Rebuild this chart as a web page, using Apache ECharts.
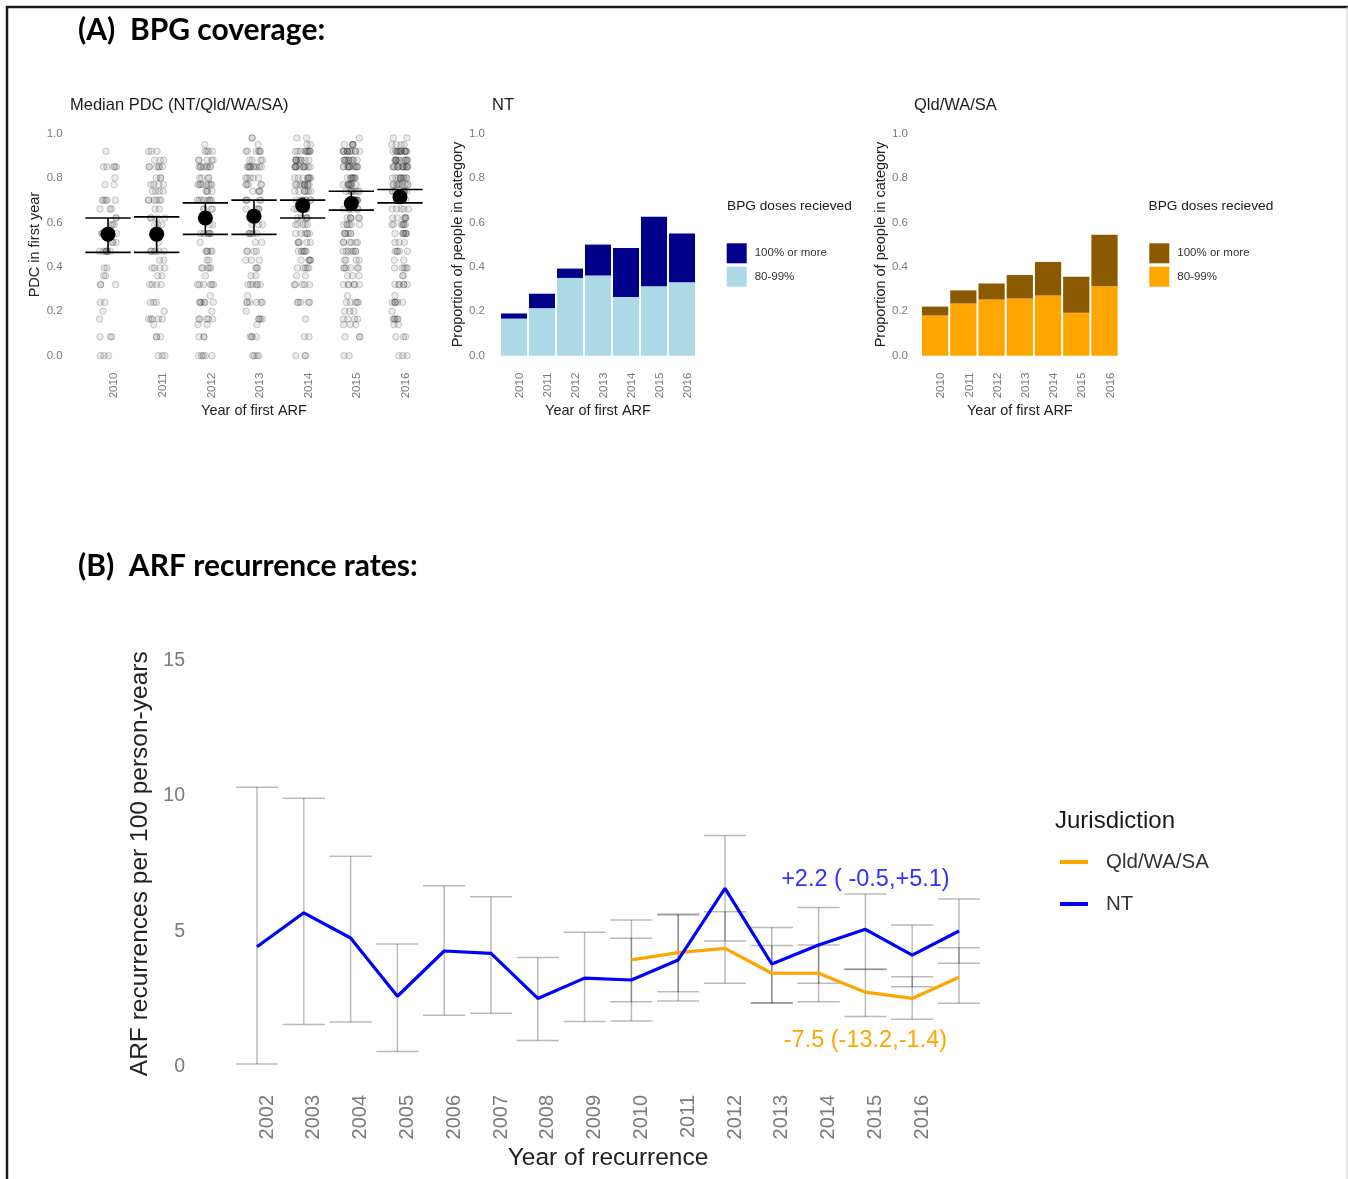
<!DOCTYPE html>
<html>
<head>
<meta charset="utf-8">
<script src="https://cdn.jsdelivr.net/npm/echarts@6.0.0/dist/echarts.min.js"></script>
<style>
  html, body { margin: 0; padding: 0; background: #fff; }
  #chart { width: 1348px; height: 1179px; }
</style>
</head>
<body>
<div id="chart"></div>
<script>
// ---- (A) PDC in first year, by year of first ARF
var firstYears = ['2010', '2011', '2012', '2013', '2014', '2015', '2016'];
// PDC values seen in the jittered strips, and how many people sit at each value per year
var pdcLevels = [0, 0.085, 0.14, 0.165, 0.2, 0.24, 0.27, 0.32, 0.36, 0.395, 0.43, 0.47, 0.51, 0.55, 0.59, 0.62, 0.66, 0.70, 0.74, 0.77, 0.80, 0.85, 0.88, 0.92, 0.95, 0.98];
var pdcCount2010 = [3, 3, 0, 1, 1, 2, 0, 3, 2, 2, 0, 7, 3, 4, 3, 2, 3, 5, 0, 2, 1, 5, 0, 1, 0, 0];
var pdcCount2011 = [3, 3, 1, 5, 1, 3, 0, 4, 2, 4, 2, 6, 1, 3, 3, 4, 2, 6, 4, 4, 3, 6, 3, 3, 0, 0];
var pdcCount2012 = [5, 3, 2, 5, 1, 6, 1, 6, 1, 5, 2, 5, 1, 6, 2, 2, 4, 8, 4, 8, 4, 8, 5, 4, 1, 0];
var pdcCount2013 = [4, 4, 1, 4, 1, 6, 1, 6, 2, 3, 3, 4, 2, 5, 3, 3, 4, 5, 4, 5, 5, 10, 4, 6, 1, 2];
var pdcCount2014 = [3, 2, 0, 1, 0, 5, 0, 5, 2, 5, 5, 6, 5, 6, 5, 5, 6, 8, 7, 10, 8, 12, 9, 10, 2, 2];
var pdcCount2015 = [2, 3, 3, 4, 3, 5, 1, 6, 3, 6, 4, 7, 6, 6, 6, 6, 6, 8, 8, 9, 8, 12, 10, 12, 5, 1];
var pdcCount2016 = [3, 3, 2, 5, 1, 6, 1, 6, 2, 5, 2, 5, 3, 7, 7, 6, 5, 8, 8, 10, 10, 14, 12, 14, 4, 2];
var pdcMedian = [0.547, 0.547, 0.62, 0.628, 0.676, 0.685, 0.715];
var pdcLower = [0.465, 0.465, 0.546, 0.546, 0.62, 0.655, 0.688];
var pdcUpper = [0.62, 0.625, 0.688, 0.70, 0.70, 0.74, 0.748];

// proportion of people by BPG doses received
var nt8099 = [0.167, 0.214, 0.35, 0.361, 0.264, 0.312, 0.33];
var nt100 = [0.023, 0.065, 0.042, 0.139, 0.221, 0.313, 0.22];
var qld8099 = [0.181, 0.235, 0.253, 0.258, 0.271, 0.193, 0.313];
var qld100 = [0.04, 0.059, 0.072, 0.105, 0.151, 0.162, 0.231];

// ---- (B) ARF recurrence rates per 100 person-years
var recurYears = ['2002', '2003', '2004', '2005', '2006', '2007', '2008', '2009',
  '2010', '2011', '2012', '2013', '2014', '2015', '2016', '2017'];
var ntRate = [4.44, 5.69, 4.76, 2.61, 4.28, 4.19, 2.53, 3.28, 3.21, 3.95, 6.59, 3.80, 4.50, 5.08, 4.13, 5.02];
var ntLow = [0.11, 1.57, 1.66, 0.57, 1.91, 1.98, 0.98, 1.68, 1.70, 2.44, 4.65, 2.37, 3.09, 3.62, 2.96, 3.83];
var ntHigh = [10.32, 9.92, 7.78, 4.54, 6.69, 6.28, 4.04, 4.97, 5.42, 5.61, 8.54, 5.15, 5.89, 6.38, 5.24, 6.20];
var qldRate = [null, null, null, null, null, null, null, null, 3.95, 4.22, 4.38, 3.46, 3.46, 2.76, 2.53, 3.31];
var qldLow = [null, null, null, null, null, null, null, null, 2.41, 2.78, 3.09, 2.35, 2.41, 1.86, 1.76, 2.35];
var qldHigh = [null, null, null, null, null, null, null, null, 4.75, 5.65, 5.73, 4.48, 4.50, 3.60, 3.33, 4.40];
var ntChange = '+2.2 ( -0.5,+5.1)';
var qldChange = '-7.5 (-13.2,-1.4)';

var FONT = '"Liberation Sans", Arial, sans-serif';
var TICK = '#7a7a7a';
var NAVY = '#00008B', LIGHTBLUE = '#ADD8E6', ORANGE = '#FFA500', BROWN = '#8B5A00';

// expand counts into one point per person
var pdcCounts = [pdcCount2010, pdcCount2011, pdcCount2012, pdcCount2013, pdcCount2014, pdcCount2015, pdcCount2016];
var pdcPoints = [];
pdcCounts.forEach(function (counts, i) {
  counts.forEach(function (n, j) {
    for (var k = 0; k < n; k++) pdcPoints.push([i, pdcLevels[j]]);
  });
});
var medianData = pdcMedian.map(function (m, i) { return [i, m, pdcLower[i], pdcUpper[i]]; });

var ntErr = ntLow.map(function (v, i) { return [i, v, ntHigh[i]]; });
var qldErr = [];
qldLow.forEach(function (v, i) { if (v !== null) qldErr.push([i, v, qldHigh[i]]); });

function medianItem(params, api) {
  var i = api.value(0);
  var mid = api.coord([i, api.value(1)]);
  var lo = api.coord([i, api.value(2)]);
  var hi = api.coord([i, api.value(3)]);
  var half = api.size([1, 0])[0] * 0.465;
  return {
    type: 'group',
    children: [
      { type: 'line', shape: { x1: mid[0], y1: lo[1], x2: mid[0], y2: hi[1] }, style: { stroke: '#000', lineWidth: 1.6 } },
      { type: 'line', shape: { x1: mid[0] - half, y1: lo[1], x2: mid[0] + half, y2: lo[1] }, style: { stroke: '#000', lineWidth: 1.6 } },
      { type: 'line', shape: { x1: mid[0] - half, y1: hi[1], x2: mid[0] + half, y2: hi[1] }, style: { stroke: '#000', lineWidth: 1.6 } },
      { type: 'circle', shape: { cx: mid[0], cy: mid[1], r: 7.5 }, style: { fill: '#000' } }
    ]
  };
}

function errItem(params, api) {
  var i = api.value(0);
  var lo = api.coord([i, api.value(1)]);
  var hi = api.coord([i, api.value(2)]);
  var half = api.size([1, 0])[0] * 0.45;
  var c = 'rgba(0,0,0,0.27)';
  return {
    type: 'group',
    children: [
      { type: 'line', shape: { x1: lo[0], y1: lo[1], x2: lo[0], y2: hi[1] }, style: { stroke: c, lineWidth: 1.5 } },
      { type: 'line', shape: { x1: lo[0] - half, y1: lo[1], x2: lo[0] + half, y2: lo[1] }, style: { stroke: c, lineWidth: 1.5 } },
      { type: 'line', shape: { x1: lo[0] - half, y1: hi[1], x2: lo[0] + half, y2: hi[1] }, style: { stroke: c, lineWidth: 1.5 } }
    ]
  };
}

function smallYAxis(grid, name, margin, gap) {
  return {
    type: 'value', gridIndex: grid, min: 0, max: 1, interval: 0.2,
    name: name, nameLocation: 'middle', nameGap: gap, nameRotate: 90,
    nameTextStyle: { fontFamily: FONT, fontSize: 14.5, color: '#222' },
    axisLine: { show: false }, axisTick: { show: false }, splitLine: { show: false },
    axisLabel: { margin: margin, fontFamily: FONT, fontSize: 11.5, color: TICK,
      formatter: function (v) { return v.toFixed(1); } }
  };
}

function smallXAxis(grid, extra) {
  var ax = {
    type: 'category', gridIndex: grid, data: firstYears,
    name: 'Year of first ARF', nameLocation: 'middle', nameGap: 48,
    nameTextStyle: { fontFamily: FONT, fontSize: 14.5, color: '#222' },
    axisLine: { show: false }, axisTick: { show: false }, splitLine: { show: false },
    axisLabel: { interval: 0, rotate: 90, margin: 17, verticalAlign: 'top',
      fontFamily: FONT, fontSize: 11.5, color: TICK }
  };
  for (var k in extra) ax[k] = extra[k];
  return ax;
}

var chart = echarts.init(document.getElementById('chart'));

var option = {
  backgroundColor: '#fff',
  animation: false,
  grid: [
    { left: 83.7, top: 133.5, width: 340.6, height: 222.2, outerBoundsMode: 'none' },
    { left: 500, top: 133.5, width: 196, height: 222.2, outerBoundsMode: 'none' },
    { left: 921, top: 133.5, width: 197.6, height: 222.2, outerBoundsMode: 'none' },
    { left: 257, top: 660.5, width: 702, height: 406.5, outerBoundsMode: 'none' }
  ],
  xAxis: [
    smallXAxis(0, { jitter: 17, jitterOverlap: true }),
    smallXAxis(1, {}),
    smallXAxis(2, {}),
    {
      type: 'category', gridIndex: 3, data: recurYears, boundaryGap: false,
      name: 'Year of recurrence', nameLocation: 'middle', nameGap: 79,
      nameTextStyle: { fontFamily: FONT, fontSize: 24.5, color: '#222' },
      axisLine: { show: false }, axisTick: { show: false }, splitLine: { show: false },
      axisLabel: { interval: 0, rotate: 90, margin: 28, verticalAlign: 'top',
        fontFamily: FONT, fontSize: 20, color: TICK,
        formatter: function (v) { return v === '2017' ? '' : v; } }
    }
  ],
  yAxis: [
    smallYAxis(0, 'PDC in first year', 21, 38),
    smallYAxis(1, 'Proportion of people in category', 15, 34),
    smallYAxis(2, 'Proportion of people in category', 13, 32),
    {
      type: 'value', gridIndex: 3, min: 0, max: 15, interval: 5,
      name: 'ARF recurrences per 100 person-years', nameLocation: 'middle', nameGap: 94, nameRotate: 90,
      nameTextStyle: { fontFamily: FONT, fontSize: 24.5, color: '#222' },
      axisLine: { show: false }, axisTick: { show: false }, splitLine: { show: false },
      axisLabel: { margin: 72, fontFamily: FONT, fontSize: 19.5, color: TICK }
    }
  ],
  legend: [
    {
      left: 726.7, top: 243.3, orient: 'vertical', padding: 0, itemGap: 3.4,
      itemWidth: 20, itemHeight: 20, icon: 'rect', selectedMode: false,
      textStyle: { fontFamily: FONT, fontSize: 11.5, color: '#333', padding: [0, 0, 0, 3] },
      data: ['100% or more', '80-99%']
    },
    {
      left: 1149.3, top: 243.3, orient: 'vertical', padding: 0, itemGap: 3.4,
      itemWidth: 20, itemHeight: 20, icon: 'rect', selectedMode: false,
      textStyle: { fontFamily: FONT, fontSize: 11.5, color: '#333', padding: [0, 0, 0, 3] },
      data: [
        { name: '100% or more', itemStyle: { color: BROWN } },
        { name: '80-99%', itemStyle: { color: ORANGE } }
      ]
    },
    {
      left: 1060, top: 849, orient: 'vertical', padding: 0, itemGap: 16,
      itemWidth: 28, itemHeight: 4, icon: 'rect', selectedMode: false,
      textStyle: { fontFamily: FONT, fontSize: 20.5, color: '#333', lineHeight: 22, padding: [4, 0, 0, 13] },
      data: ['Qld/WA/SA', 'NT']
    }
  ],
  graphic: [
    { type: 'polyline', shape: { points: [[7, 1179], [7, 7], [1348, 7]] }, style: { stroke: '#1a1a1a', lineWidth: 2.5, fill: null } },
    { type: 'line', shape: { x1: 1347, y1: 7, x2: 1347, y2: 1179 }, style: { stroke: '#c8c8c8', lineWidth: 1 } },
    { type: 'text', x: 78, y: 30, style: { text: '(A)  BPG coverage:', font: 'bold 30px Lato, "Open Sans", sans-serif', fill: '#000', verticalAlign: 'middle' } },
    { type: 'text', x: 78, y: 566, style: { text: '(B)  ARF recurrence rates:', font: 'bold 30px Lato, "Open Sans", sans-serif', fill: '#000', verticalAlign: 'middle' } },
    { type: 'text', x: 70, y: 105, style: { text: 'Median PDC (NT/Qld/WA/SA)', font: '16.5px ' + FONT, fill: '#1a1a1a', verticalAlign: 'middle' } },
    { type: 'text', x: 492, y: 105, style: { text: 'NT', font: '16.5px ' + FONT, fill: '#1a1a1a', verticalAlign: 'middle' } },
    { type: 'text', x: 914, y: 105, style: { text: 'Qld/WA/SA', font: '16.5px ' + FONT, fill: '#1a1a1a', verticalAlign: 'middle' } },
    { type: 'text', x: 727, y: 206, style: { text: 'BPG doses recieved', font: '13.7px ' + FONT, fill: '#1a1a1a', verticalAlign: 'middle' } },
    { type: 'text', x: 1148.5, y: 206, style: { text: 'BPG doses recieved', font: '13.7px ' + FONT, fill: '#1a1a1a', verticalAlign: 'middle' } },
    { type: 'text', x: 1055, y: 821, style: { text: 'Jurisdiction', font: '24px ' + FONT, fill: '#1a1a1a', verticalAlign: 'middle' } }
  ],
  series: [
    {
      name: 'PDC', type: 'scatter', xAxisIndex: 0, yAxisIndex: 0, data: pdcPoints,
      symbolSize: 6.5,
      itemStyle: { color: 'rgba(60,60,60,0.13)', borderColor: 'rgba(40,40,40,0.35)', borderWidth: 0.8 }
    },
    {
      name: 'Median PDC', type: 'custom', xAxisIndex: 0, yAxisIndex: 0,
      renderItem: medianItem, data: medianData, encode: { x: 0, y: 1 }, z: 5
    },
    { name: '80-99%', type: 'bar', xAxisIndex: 1, yAxisIndex: 1, stack: 'nt', data: nt8099,
      barCategoryGap: '7%', itemStyle: { color: LIGHTBLUE } },
    { name: '100% or more', type: 'bar', xAxisIndex: 1, yAxisIndex: 1, stack: 'nt', data: nt100,
      barCategoryGap: '7%', itemStyle: { color: NAVY } },
    { name: '80-99%', type: 'bar', xAxisIndex: 2, yAxisIndex: 2, stack: 'qld', data: qld8099,
      barCategoryGap: '7%', itemStyle: { color: ORANGE } },
    { name: '100% or more', type: 'bar', xAxisIndex: 2, yAxisIndex: 2, stack: 'qld', data: qld100,
      barCategoryGap: '7%', itemStyle: { color: BROWN } },
    {
      name: 'NT interval', type: 'custom', xAxisIndex: 3, yAxisIndex: 3,
      renderItem: errItem, data: ntErr, encode: { x: 0, y: [1, 2] }
    },
    {
      name: 'Qld interval', type: 'custom', xAxisIndex: 3, yAxisIndex: 3,
      renderItem: errItem, data: qldErr, encode: { x: 0, y: [1, 2] }
    },
    {
      name: 'Qld/WA/SA', type: 'line', xAxisIndex: 3, yAxisIndex: 3, data: qldRate,
      symbol: 'none', lineStyle: { color: ORANGE, width: 3.2 }, itemStyle: { color: ORANGE },
      markPoint: {
        symbol: 'circle', symbolSize: 0,
        label: { show: true, position: 'inside', fontFamily: FONT, fontSize: 23.5, color: ORANGE,
          formatter: function () { return qldChange; } },
        data: [{ coord: ['2015', 0.96] }]
      }
    },
    {
      name: 'NT', type: 'line', xAxisIndex: 3, yAxisIndex: 3, data: ntRate,
      symbol: 'none', lineStyle: { color: '#0000FF', width: 3.2 }, itemStyle: { color: '#0000FF' },
      markPoint: {
        symbol: 'circle', symbolSize: 0,
        label: { show: true, position: 'inside', fontFamily: FONT, fontSize: 23.5, color: '#3030FF',
          formatter: function () { return ntChange; } },
        data: [{ coord: ['2015', 6.9] }]
      }
    }
  ]
};

chart.setOption(option);
</script>
</body>
</html>
